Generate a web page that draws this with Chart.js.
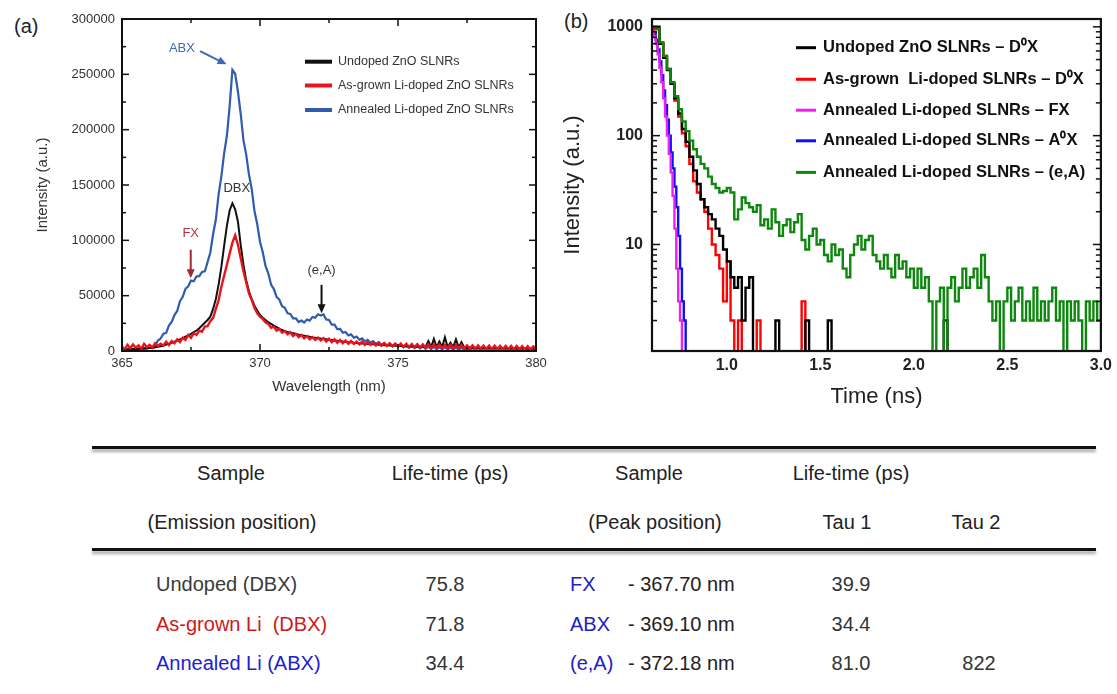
<!DOCTYPE html>
<html>
<head>
<meta charset="utf-8">
<script src="https://cdn.jsdelivr.net/npm/chart.js@4.4.0/dist/chart.umd.min.js"></script>
<style>
  body { margin: 0; background: #fff; width: 1117px; height: 694px; overflow: hidden; position: relative;
         font-family: "Liberation Sans", Arial, sans-serif; }
  #wrapA { position: absolute; left: 0; top: 0; }
  #wrapB { position: absolute; left: 560px; top: 0; }
  .panel { position: absolute; font-size: 20px; color: #222; transform: translateY(-50%); }
  .rule { position: absolute; left: 92px; width: 1004px; height: 3px; background: #111;
          box-shadow: 0 3px 3px rgba(0,0,0,0.35); }
  .cell { position: absolute; font-size: 20px; white-space: pre; transform: translateY(-50%); color: #222; }
</style>
</head>
<body>
<div class="panel" style="left:14px;top:26px;">(a)</div>
<div class="panel" style="left:564px;top:21px;">(b)</div>
<div id="wrapA"><canvas id="chartA" width="560" height="410"></canvas></div>
<div id="wrapB"><canvas id="chartB" width="557" height="420"></canvas></div>
<div class="rule" style="top:446px;"></div>
<div class="rule" style="top:548px;"></div>
<div id="table"></div>

<script>
// ---------- (a) PL spectra ----------
const wavelengths = [
  365.0,365.1,365.2,365.3,365.4,365.5,365.6,365.7,365.8,365.9,
  366.0,366.1,366.2,366.3,366.4,366.5,366.6,366.7,366.8,366.9,
  367.0,367.1,367.2,367.3,367.4,367.5,367.6,367.7,367.8,367.9,
  368.0,368.1,368.2,368.3,368.4,368.5,368.6,368.7,368.8,368.9,
  369.0,369.1,369.2,369.3,369.4,369.5,369.6,369.7,369.8,369.9,
  370.0,370.1,370.2,370.3,370.4,370.5,370.6,370.7,370.8,370.9,
  371.0,371.1,371.2,371.3,371.4,371.5,371.6,371.7,371.8,371.9,
  372.0,372.1,372.2,372.3,372.4,372.5,372.6,372.7,372.8,372.9,
  373.0,373.1,373.2,373.3,373.4,373.5,373.6,373.7,373.8,373.9,
  374.0,374.1,374.2,374.3,374.4,374.5,374.6,374.7,374.8,374.9,
  375.0,375.1,375.2,375.3,375.4,375.5,375.6,375.7,375.8,375.9,
  376.0,376.1,376.2,376.3,376.4,376.5,376.6,376.7,376.8,376.9,
  377.0,377.1,377.2,377.3,377.4,377.5,377.6,377.7,377.8,377.9,
  378.0,378.1,378.2,378.3,378.4,378.5,378.6,378.7,378.8,378.9,
  379.0,379.1,379.2,379.3,379.4,379.5,379.6,379.7,379.8,379.9,
  380.0];

const undopedPL = [
  1500,800,1800,1200,2000,1500,2300,1800,2600,2200,
  3000,2600,3400,3800,4300,5000,5800,6500,7500,8500,
  9500,10500,11500,13000,14000,15500,17000,18500,20500,23000,
  25500,28000,31000,38000,47000,60000,76000,95000,113000,127000,
  133500,128000,117000,96000,78000,64000,54000,47000,41000,36500,
  32500,30000,28000,26000,24500,23000,21500,20000,19000,18000,
  17200,16600,16000,15300,14800,14300,13800,13300,12800,12300,
  12000,11700,11300,11000,10600,10200,9900,9500,9200,8900,
  8600,8300,8000,7800,7500,7300,7000,6800,6600,6400,
  6200,6000,5800,5600,5500,5300,5100,5000,4900,4700,
  4600,4500,4400,4300,4200,4100,4000,3900,3800,3800,
  3700,9000,3600,11000,3500,8500,3400,12500,3400,7500,
  3300,10500,3200,8000,3200,3100,3100,3000,3000,2900,
  2900,2800,2800,2800,2700,2700,2700,2600,2600,2600,
  2500,2500,2500,2400,2400,2400,2300,2300,2300,2200,
  2200];

const asGrownPL = [
  4000,1500,5500,2500,6000,3000,5000,2000,6500,3500,
  5500,3000,7000,4500,6500,5000,8500,5500,9000,7000,
  10500,8000,12000,10000,14500,12000,16000,14500,18500,17500,
  22000,22500,27000,30000,38000,46000,58000,68000,78000,88000,
  98000,104500,96000,84000,72000,62000,52000,46000,39000,34000,
  31000,29000,26000,24500,21000,22000,18500,20000,16500,18000,
  15000,17000,13500,15500,12500,14500,11500,13500,10500,12500,
  10000,12000,9500,11500,8500,11000,8000,10500,7500,10000,
  7000,9500,6500,9000,6500,8500,6000,8500,5500,8000,
  5500,7800,5000,7500,4800,7300,4500,7000,4300,6800,
  4000,6700,3800,6500,3600,6300,3400,6200,3200,6000,
  3000,5900,2900,5800,2800,5700,2700,5600,2600,5500,
  2500,5400,2400,5300,2300,5200,2200,5100,2100,5000,
  2000,4900,1900,4800,1800,4800,1700,4700,1600,4600,
  1500,4500,1400,4500,1300,4400,1200,4300,1100,4200,
  2500];

const annealedPL = [
  800,1600,600,1500,900,1900,1200,2100,1500,2600,
  2700,4200,4600,9400,11200,15600,16300,23000,26200,32500,
  36200,45000,49000,56200,58500,63600,63000,67500,67600,71500,
  72000,80200,89000,105500,118800,141500,157800,178500,194500,221000,
  254000,250500,234500,214500,190500,177500,159500,146500,126500,114500,
  98800,89200,76800,70200,60000,56000,49000,46500,40500,39000,
  34000,33500,29500,29500,26200,27500,25800,28500,27500,30800,
  30000,33200,32000,33000,28500,28000,23800,23800,19800,20000,
  16500,17200,14000,15000,12000,13000,10200,11400,8700,10000,
  7400,8900,6400,8000,5600,7200,4900,6600,4300,6000,
  3800,5500,3300,5100,2900,4700,2600,4400,2300,4100,
  2000,3900,1800,3700,1600,3500,1500,3400,1300,3300,
  1200,3200,1100,3100,1000,3000,900,2900,800,2800,
  800,2700,700,2600,600,2600,500,2500,500,2400,
  400,2400,300,2300,300,2200,200,2200,100,2100,
  1100];

const plLabels = ['Undoped ZnO SLNRs', 'As-grown Li-doped ZnO SLNRs', 'Annealed Li-doped ZnO SLNRs'];

// peak labels in data coordinates: [text, wavelength, intensity]
const peakNotes = [['ABX', 367.17, 273400], ['DBX', 369.16, 147300], ['FX', 367.49, 106500], ['(e,A)', 372.23, 72500]];
// arrows: [from wl, from I, to wl, to I]
const peakArrows = [[367.83, 271000, 368.79, 259000], [367.49, 91500, 367.49, 65800], [372.23, 59800, 372.23, 34100]];

// ---------- (b) TRPL decays ----------
const fastTimes = [0.60,0.61,0.62,0.63,0.64,0.65,0.66,0.67,0.68,0.69,0.70,0.71,0.72,0.73,0.74,0.75,0.76,0.77,0.78];
const fxDecay  = [950,820,700,560,420,310,220,150,100,68,46,28,14,6,3,2,1,1,1];
const a0xDecay = [980,880,760,620,480,360,260,190,140,100,70,50,34,22,12,6,3,2,1];

const timesNs = [
  0.60,0.62,0.64,0.66,0.68,0.70,0.72,0.74,0.76,0.78,
  0.80,0.82,0.84,0.86,0.88,0.90,0.92,0.94,0.96,0.98,
  1.00,1.02,1.04,1.06,1.08,1.10,1.12,1.14,1.16,1.18,
  1.20,1.22,1.24,1.26,1.28,1.30,1.32,1.34,1.36,1.38,
  1.40,1.42,1.44,1.46,1.48,1.50,1.52,1.54,1.56,1.58,
  1.60,1.62,1.64,1.66,1.68,1.70,1.72,1.74,1.76,1.78,
  1.80,1.82,1.84,1.86,1.88,1.90,1.92,1.94,1.96,1.98,
  2.00,2.02,2.04,2.06,2.08,2.10,2.12,2.14,2.16,2.18,
  2.20,2.22,2.24,2.26,2.28,2.30,2.32,2.34,2.36,2.38,
  2.40,2.42,2.44,2.46,2.48,2.50,2.52,2.54,2.56,2.58,
  2.60,2.62,2.64,2.66,2.68,2.70,2.72,2.74,2.76,2.78,
  2.80,2.82,2.84,2.86,2.88,2.90,2.92,2.94,2.96,2.98,
  3.00];

const undopedDecay = [
  1000,1000,700,520,400,300,220,160,115,88,
  64,48,36,26,22,19,17,14,12,9,
  7,5,4,5,2,4,5,1,1,1,
  1,1,1,2,1,1,1,1,1,1,
  1,2,1,1,1,1,1,2,1,1,
  1,1,1,1,1,1,1,1,1,1,
  1,1,1,1,1,1,1,1,1,1,
  1,1,1,1,1,1,1,1,2,1,
  1];

const asGrownDecay = [
  950,950,720,540,410,300,210,150,105,80,
  55,38,30,26,20,14,10,8,6,3,
  7,2,1,2,1,1,1,1,2,1,
  1,1,1,1,1,1,1,1,1,1,
  3,1,1,1,1,1,1,1,1,1,
  1,1,1,1,1,1,1,1,1,1,
  1,1,1,1,1,1,1,1,1,1,
  1,1,1,1,1,1,1,1,1,1,
  1];

const eaDecay = [
  1000,960,720,540,410,310,230,175,135,110,
  90,75,64,55,50,42,36,33,30,31,
  33,30,17,21,27,24,22,20,23,15,
  17,14,21,16,12,15,17,13,16,19,
  11,9,12,14,10,11,8,7,10,8,
  9,6,5,8,10,12,9,11,12,8,
  7,6,8,6,5,8,6,7,5,6,
  4,6,4,5,3,1,3,4,1,4,
  5,3,4,6,4,5,6,4,8,5,
  3,2,3,1,3,4,2,3,4,2,
  3,2,4,2,3,2,3,4,2,3,
  1,3,2,3,2,1,3,2,3,2,
  3];

const decayLabels = ['Undoped ZnO SLNRs \u2013 D\u2070X', 'As-grown  Li-doped SLNRs \u2013 D\u2070X',
  'Annealed Li-doped SLNRs \u2013 FX', 'Annealed Li-doped SLNRs \u2013 A\u2070X', 'Annealed Li-doped SLNRs \u2013 (e,A)'];

// ---------- table ----------
const headRow1 = ['Sample', 'Life-time (ps)', 'Sample', 'Life-time (ps)'];
const headRow2 = ['(Emission position)', '(Peak position)', 'Tau 1', 'Tau 2'];
const emissionSamples = ['Undoped (DBX)', 'As-grown Li  (DBX)', 'Annealed Li (ABX)'];
const emissionLifetimes = ['75.8', '71.8', '34.4'];
const peakNames = ['FX', 'ABX', '(e,A)'];
const peakPositions = ['- 367.70 nm', '- 369.10 nm', '- 372.18 nm'];
const tau1Values = ['39.9', '34.4', '81.0'];
const tau2Values = ['', '', '822'];

const FONT = '"Liberation Sans", Arial, sans-serif';

// frame box + inward tick marks
const framePlugin = {
  id: 'frame',
  afterDatasetsDraw(chart, args, o) {
    const { ctx, chartArea: a } = chart;
    const sx = chart.scales.x, sy = chart.scales.y;
    const seg = (x1, y1, x2, y2) => { ctx.beginPath(); ctx.moveTo(x1, y1); ctx.lineTo(x2, y2); ctx.stroke(); };
    ctx.save();
    ctx.strokeStyle = '#111';
    ctx.lineWidth = o.tickWidth;
    (o.xTicks || []).forEach(([v, len]) => {
      const p = sx.getPixelForValue(v);
      seg(p, a.bottom, p, a.bottom - len); seg(p, a.top, p, a.top + len);
    });
    (o.yTicks || []).forEach(([v, len]) => {
      const p = sy.getPixelForValue(v);
      seg(a.left, p, a.left + len, p); seg(a.right, p, a.right - len, p);
    });
    ctx.lineWidth = o.lineWidth;
    ctx.strokeRect(a.left, a.top, a.right - a.left, a.bottom - a.top);
    ctx.restore();
  }
};

// legend drawn inside the plot
const innerLegend = {
  id: 'innerLegend',
  afterDraw(chart, args, o) {
    const ctx = chart.ctx;
    ctx.save();
    ctx.font = o.font;
    ctx.textBaseline = 'middle';
    o.order.forEach((di, row) => {
      const ds = chart.data.datasets[di];
      const y = o.ys[row];
      ctx.strokeStyle = ds.borderColor;
      ctx.lineWidth = o.lineWidth;
      ctx.beginPath(); ctx.moveTo(o.x0, y); ctx.lineTo(o.x1, y); ctx.stroke();
      ctx.fillStyle = o.color;
      ctx.fillText(ds.label, o.tx, y);
    });
    ctx.restore();
  }
};

function drawArrow(ctx, x1, y1, x2, y2, color) {
  const ang = Math.atan2(y2 - y1, x2 - x1), h = 9, w = 4;
  ctx.strokeStyle = color; ctx.fillStyle = color; ctx.lineWidth = 2;
  ctx.beginPath(); ctx.moveTo(x1, y1);
  ctx.lineTo(x2 - Math.cos(ang) * h * 0.7, y2 - Math.sin(ang) * h * 0.7); ctx.stroke();
  const bx = x2 - Math.cos(ang) * h, by = y2 - Math.sin(ang) * h;
  ctx.beginPath(); ctx.moveTo(x2, y2);
  ctx.lineTo(bx + Math.sin(ang) * w, by - Math.cos(ang) * w);
  ctx.lineTo(bx - Math.sin(ang) * w, by + Math.cos(ang) * w);
  ctx.closePath(); ctx.fill();
}

const peakNotePlugin = {
  id: 'peakNotes',
  afterDraw(chart, args, o) {
    const { ctx } = chart;
    const sx = chart.scales.x, sy = chart.scales.y;
    ctx.save();
    ctx.font = '13px ' + FONT;
    ctx.textAlign = 'center';
    ctx.textBaseline = 'middle';
    peakNotes.forEach(([t, x, y], i) => {
      ctx.fillStyle = o.textColors[i];
      ctx.fillText(t, sx.getPixelForValue(x), sy.getPixelForValue(y));
    });
    peakArrows.forEach(([x1, y1, x2, y2], i) => {
      drawArrow(ctx, sx.getPixelForValue(x1), sy.getPixelForValue(y1),
        sx.getPixelForValue(x2), sy.getPixelForValue(y2), o.arrowColors[i]);
    });
    ctx.restore();
  }
};

// tick mark lists
const ticksAx = [], ticksAy = [];
for (let i = 0; i <= 6; i++) ticksAx.push([365 + i * 2.5, i % 2 === 0 ? 7 : 4]);
for (let i = 0; i <= 12; i++) ticksAy.push([i * 25000, i % 2 === 0 ? 7 : 4]);
const ticksBy = [];
[1, 10, 100].forEach(d => { for (let m = 1; m <= 9; m++) { const v = d * m; if (v > 1.05 && v <= 1180) ticksBy.push([v, m === 1 ? 8 : 5]); } });
ticksBy.push([1000, 8]);

// ---------- chart (a) ----------
const toXY = (xs, ys) => ys.map((v, i) => ({ x: xs[i], y: v }));

new Chart(document.getElementById('chartA'), {
  type: 'line',
  data: {
    datasets: [
      { label: plLabels[0], data: toXY(wavelengths, undopedPL), borderColor: '#111', borderWidth: 2, order: 1 },
      { label: plLabels[1], data: toXY(wavelengths, asGrownPL), borderColor: '#e8141c', borderWidth: 2.4, order: 0 },
      { label: plLabels[2], data: toXY(wavelengths, annealedPL), borderColor: '#2f5cae', borderWidth: 2.2, order: 2 }
    ]
  },
  options: {
    responsive: false,
    animation: false,
    elements: { point: { radius: 0 }, line: { tension: 0 } },
    layout: { padding: { left: 0, top: 19, right: 24, bottom: 0 } },
    plugins: {
      legend: { display: false },
      tooltip: { enabled: false },
      frame: { xTicks: ticksAx, yTicks: ticksAy, tickWidth: 1.5, lineWidth: 2 },
      innerLegend: { order: [0, 1, 2], x0: 305, x1: 332, tx: 338, ys: [61.7, 85.5, 110], lineWidth: 4,
                     font: '12.5px ' + FONT, color: '#333' },
      peakNotes: { textColors: ['#3f68b5', '#333', '#b03540', '#333'], arrowColors: ['#3f68b5', '#9c2a35', '#111'] }
    },
    scales: {
      x: {
        type: 'linear', min: 365, max: 380,
        grid: { display: false, drawTicks: false }, border: { display: false },
        ticks: { stepSize: 5, padding: 5, color: '#333', font: { family: FONT, size: 13 } },
        title: { display: true, text: 'Wavelength (nm)', color: '#333', font: { family: FONT, size: 15 }, padding: { top: 0, bottom: 14 } },
        afterFit(s) { s.height = 59; }
      },
      y: {
        type: 'linear', min: 0, max: 300000,
        grid: { display: false, drawTicks: false }, border: { display: false },
        ticks: { stepSize: 50000, padding: 7, color: '#333', font: { family: FONT, size: 13 }, callback: v => String(v) },
        title: { display: true, text: 'Intensity (a.u.)', color: '#333', font: { family: FONT, size: 15 }, padding: { top: 34, bottom: 0 } },
        afterFit(s) { s.width = 122; }
      }
    }
  },
  plugins: [framePlugin, innerLegend, peakNotePlugin]
});

// ---------- chart (b) ----------
new Chart(document.getElementById('chartB'), {
  type: 'line',
  data: {
    datasets: [
      { label: decayLabels[0], data: toXY(timesNs, undopedDecay), borderColor: '#000', order: 1 },
      { label: decayLabels[1], data: toXY(timesNs, asGrownDecay), borderColor: '#ff0000', order: 2 },
      { label: decayLabels[2], data: toXY(fastTimes, fxDecay), borderColor: '#f01ef0', order: 3 },
      { label: decayLabels[3], data: toXY(fastTimes, a0xDecay), borderColor: '#1010f0', order: 4 },
      { label: decayLabels[4], data: toXY(timesNs, eaDecay), borderColor: '#0d870d', order: 0 }
    ]
  },
  options: {
    responsive: false,
    animation: false,
    elements: { point: { radius: 0 }, line: { tension: 0, borderWidth: 2.4, stepped: true } },
    layout: { padding: { left: 0, top: 19, right: 13, bottom: 0 } },
    plugins: {
      legend: { display: false },
      tooltip: { enabled: false },
      frame: { xTicks: [], yTicks: ticksBy, tickWidth: 1.5, lineWidth: 2.2 },
      innerLegend: { order: [0, 1, 2, 3, 4], x0: 236, x1: 256, tx: 263, ys: [47.7, 79.3, 110.2, 140.8, 172.4],
                     lineWidth: 3, font: 'bold 16.5px ' + FONT, color: '#111' }
    },
    scales: {
      x: {
        type: 'linear', min: 0.6, max: 3.0,
        grid: { display: false, drawTicks: false }, border: { display: false },
        afterBuildTicks(s) { s.ticks = [1.0, 1.5, 2.0, 2.5, 3.0].map(v => ({ value: v })); },
        ticks: { autoSkip: false, maxRotation: 0, padding: 5, color: '#222', font: { family: FONT, size: 16, weight: 'bold' },
                 callback: v => Number(v).toFixed(1) },
        title: { display: true, text: 'Time (ns)', color: '#222', font: { family: FONT, size: 22 }, padding: { top: 0, bottom: 10 } },
        afterFit(s) { s.height = 69; }
      },
      y: {
        type: 'logarithmic', min: 1.05, max: 1180,
        grid: { display: false, drawTicks: false }, border: { display: false },
        afterBuildTicks(s) { s.ticks = [10, 100, 1000].map(v => ({ value: v })); },
        ticks: { autoSkip: false, padding: 9, color: '#222', font: { family: FONT, size: 16, weight: 'bold' },
                 callback: v => String(v) },
        title: { display: true, text: 'Intensity (a.u.)', color: '#222', font: { family: FONT, size: 22 }, padding: { top: 0, bottom: 0 } },
        afterFit(s) { s.width = 92; }
      }
    }
  },
  plugins: [framePlugin, innerLegend]
});

// ---------- table ----------
const tableEl = document.getElementById('table');
function cell(text, x, y, align, color) {
  const d = document.createElement('div');
  d.className = 'cell';
  d.textContent = text;
  d.style.top = y + 'px';
  if (align === 'center') { d.style.left = x + 'px'; d.style.transform = 'translate(-50%,-50%)'; }
  else d.style.left = x + 'px';
  if (color) d.style.color = color;
  tableEl.appendChild(d);
}
[231, 450, 649, 851].forEach((x, i) => cell(headRow1[i], x, 473, 'center'));
[232, 655, 847, 976].forEach((x, i) => cell(headRow2[i], x, 522, 'center'));
const rowY = [584, 623.5, 663];
const sampleColors = ['#3a3a3a', '#d01818', '#2020d0'];
rowY.forEach((y, i) => {
  cell(emissionSamples[i], 156, y, 'left', sampleColors[i]);
  cell(emissionLifetimes[i], 445, y, 'center', '#333');
  cell(peakNames[i], 570, y, 'left', '#2020c8');
  cell(peakPositions[i], 628, y, 'left', '#222');
  cell(tau1Values[i], 851, y, 'center', '#333');
  if (tau2Values[i]) cell(tau2Values[i], 979, y, 'center', '#333');
});
</script>
</body>
</html>
